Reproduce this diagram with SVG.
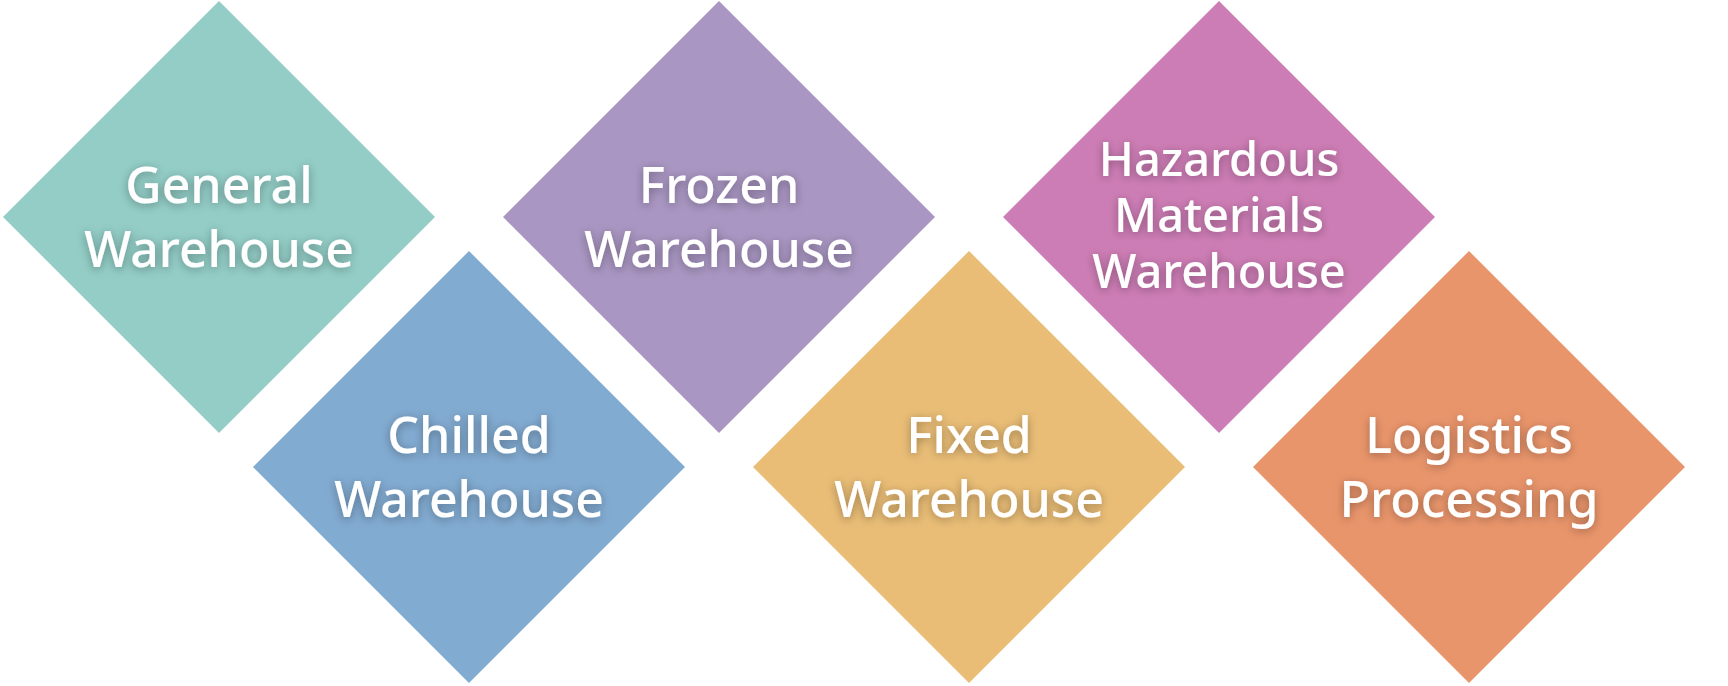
<svg xmlns="http://www.w3.org/2000/svg" width="1728" height="686" viewBox="0 0 1728 686">
<defs>
<filter id="sh" x="-20%" y="-40%" width="140%" height="180%"><feDropShadow dx="0" dy="2" stdDeviation="5" flood-color="#000" flood-opacity="0.35"/></filter>
</defs>
<style>
text{font-family:"Noto Sans","Open Sans",sans-serif;font-size:50px;font-weight:500;fill:#fff;text-anchor:middle;filter:url(#sh)}
.s{font-size:47px}
</style>
<rect width="1728" height="686" fill="#fff"/>
<g id="general"><polygon points="219,1 435,217 219,433 3,217" fill="#93CDC6"/><text x="219" y="203">General</text><text x="219" y="267">Warehouse</text></g>
<g id="chilled"><polygon points="469,251 685,467 469,683 253,467" fill="#82ABD1"/><text x="469" y="453">Chilled</text><text x="469" y="517">Warehouse</text></g>
<g id="frozen"><polygon points="719,1 935,217 719,433 503,217" fill="#A996C2"/><text x="719" y="203">Frozen</text><text x="719" y="267">Warehouse</text></g>
<g id="fixed"><polygon points="969,251 1185,467 969,683 753,467" fill="#E9BD76"/><text x="969" y="453">Fixed</text><text x="969" y="517">Warehouse</text></g>
<g id="hazardous"><polygon points="1219,1 1435,217 1219,433 1003,217" fill="#CD7DB5"/><text class="s" x="1219" y="176">Hazardous</text><text class="s" x="1219" y="232">Materials</text><text class="s" x="1219" y="288">Warehouse</text></g>
<g id="logistics"><polygon points="1469,251 1685,467 1469,683 1253,467" fill="#E9956B"/><text x="1469" y="453">Logistics</text><text x="1469" y="517">Processing</text></g>
<g id="connectors"/>
</svg>
